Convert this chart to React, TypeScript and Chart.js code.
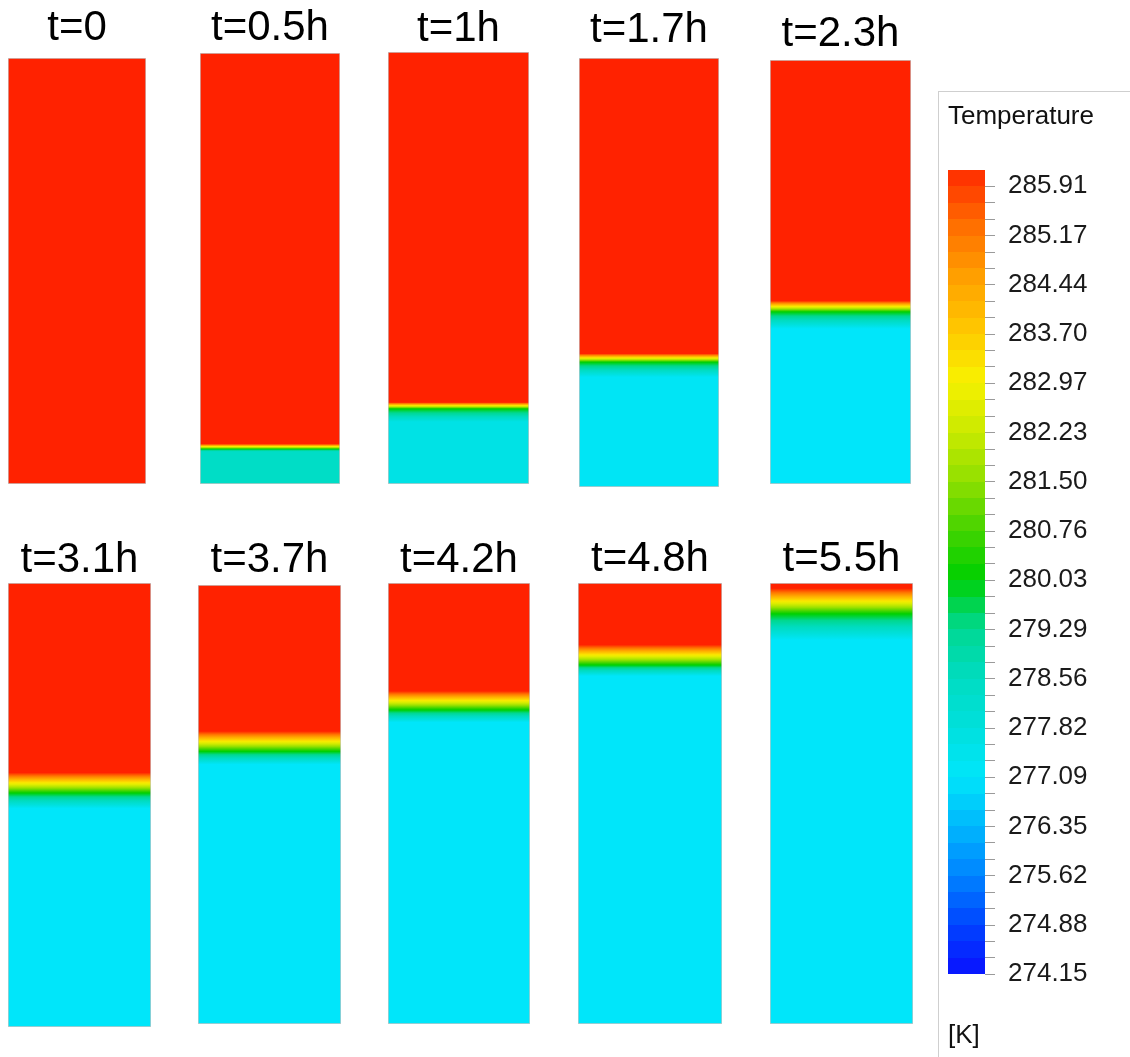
import React, { useEffect, useRef } from 'react';
import { Chart, registerables } from 'chart.js';

Chart.register(...registerables);

// ---------------- data ----------------
const TIME_LABELS = ['t=0', 't=0.5h', 't=1h', 't=1.7h', 't=2.3h', 't=3.1h', 't=3.7h', 't=4.2h', 't=4.8h', 't=5.5h'];
// height of the thermocline (green, ~280 K) as a fraction of tank height
const THERMOCLINE_LEVEL = [0, 0.081, 0.174, 0.291, 0.406, 0.527, 0.621, 0.712, 0.814, 0.93];
// thickness of the warm side of the thermocline (green -> red), fraction of tank height
const HOT_BAND = [0, 0.012, 0.015, 0.02, 0.026, 0.046, 0.046, 0.043, 0.046, 0.058];
// thickness of the cold side of the thermocline (cyan -> green), fraction of tank height
const MIXING_BAND = [0, 0.006, 0.03, 0.035, 0.04, 0.035, 0.03, 0.028, 0.025, 0.06];
// temperature of the cold fluid below the thermocline [K]
const COLD_TEMP = [277.09, 278.4, 277.6, 277.2, 277.09, 277.09, 277.09, 277.09, 277.09, 277.09];
const HOT_TEMP = 286.16;
const GREEN_TEMP = 280.03;

// colour legend tick labels, top to bottom
const TEMP_TICK_LABELS = ['285.91', '285.17', '284.44', '283.70', '282.97', '282.23', '281.50', '280.76', '280.03', '279.29', '278.56', '277.82', '277.09', '276.35', '275.62', '274.88', '274.15'];

// colour map anchors
const CMAP_TEMPS = [274.15, 274.88, 275.62, 276.35, 277.09, 277.82, 278.56, 279.29, 280.03, 280.76, 281.5, 282.23, 282.97, 283.7, 284.44, 285.17, 285.91, 286.16];
const CMAP_COLORS = ['#0a10ff', '#0044ff', '#0084ff', '#00b8fc', '#00e6fa', '#00e0dc', '#00dcc0', '#00d890', '#00d000', '#48d400', '#94e000', '#ccea00', '#f8f000', '#ffc800', '#ffa200', '#ff7400', '#ff3800', '#ff2200'];

// ---------------- layout (page pixels) ----------------
const PANEL_LAYOUT = [
  { x: 8, w: 138, titleY: 28, top: 58, bottom: 484 },
  { x: 200, w: 140, titleY: 28, top: 53, bottom: 484 },
  { x: 388, w: 141, titleY: 29, top: 52, bottom: 484 },
  { x: 579, w: 140, titleY: 30, top: 58, bottom: 487 },
  { x: 770, w: 141, titleY: 34, top: 60, bottom: 484 },
  { x: 8, w: 143, titleY: 560, top: 583, bottom: 1027 },
  { x: 198, w: 143, titleY: 560, top: 585, bottom: 1024 },
  { x: 388, w: 142, titleY: 560, top: 583, bottom: 1024 },
  { x: 578, w: 144, titleY: 559, top: 583, bottom: 1024 },
  { x: 770, w: 143, titleY: 559, top: 583, bottom: 1024 },
];
const FONT = "'Liberation Sans', Arial, Helvetica, sans-serif";
const TITLE_SIZE = 42;

function hexToRgb(h: string) {
  const n = parseInt(h.slice(1), 16);
  return [(n >> 16) & 255, (n >> 8) & 255, n & 255];
}

function colorAt(T: number) {
  if (T <= CMAP_TEMPS[0]) return CMAP_COLORS[0];
  const last = CMAP_TEMPS.length - 1;
  if (T >= CMAP_TEMPS[last]) return CMAP_COLORS[last];
  let i = 0;
  while (i < last - 1 && T > CMAP_TEMPS[i + 1]) i++;
  const f = (T - CMAP_TEMPS[i]) / (CMAP_TEMPS[i + 1] - CMAP_TEMPS[i]);
  const a = hexToRgb(CMAP_COLORS[i]);
  const b = hexToRgb(CMAP_COLORS[i + 1]);
  const c = a.map((v, k) => Math.round(v + (b[k] - v) * f));
  return `rgb(${c[0]},${c[1]},${c[2]})`;
}

const clamp01 = (v: number) => Math.max(0, Math.min(1, v));

function tankGradient(chart: any, i: number) {
  const area = chart.chartArea;
  if (!area) return colorAt(HOT_TEMP);
  const y = chart.scales.y;
  const g = chart.ctx.createLinearGradient(0, y.getPixelForValue(0), 0, y.getPixelForValue(1));
  const lvl = THERMOCLINE_LEVEL[i];
  const hb = HOT_BAND[i];
  const mb = MIXING_BAND[i];
  const cold = COLD_TEMP[i];
  g.addColorStop(0, colorAt(cold));
  const N = 12;
  for (let k = 0; k <= N; k++) {
    g.addColorStop(clamp01(lvl - mb + (mb * k) / N), colorAt(cold + ((GREEN_TEMP - cold) * k) / N));
  }
  for (let k = 1; k <= N; k++) {
    g.addColorStop(clamp01(lvl + (hb * k) / N), colorAt(GREEN_TEMP + ((HOT_TEMP - GREEN_TEMP) * k) / N));
  }
  g.addColorStop(1, colorAt(HOT_TEMP));
  return g;
}

function TankPanel({ index }: { index: number }) {
  const ref = useRef<HTMLCanvasElement>(null);
  const L = PANEL_LAYOUT[index];
  const canvasTop = L.titleY - 30;
  const height = L.bottom - canvasTop;
  useEffect(() => {
    const chart = new Chart(ref.current as HTMLCanvasElement, {
      type: 'bar',
      data: {
        labels: ['tank'],
        datasets: [
          {
            data: [[0, 1]] as any,
            backgroundColor: (c: any) => tankGradient(c.chart, index),
            borderColor: '#c6c6c6',
            borderWidth: 1,
            borderSkipped: false,
            barPercentage: 1,
            categoryPercentage: 1,
          } as any,
        ],
      },
      options: {
        responsive: false,
        animation: false,
        devicePixelRatio: 1,
        layout: { padding: 0 },
        plugins: {
          legend: { display: false },
          tooltip: { enabled: false },
          title: {
            display: true,
            text: TIME_LABELS[index],
            color: '#000',
            font: { family: FONT, size: TITLE_SIZE, weight: 'normal', lineHeight: 1 },
            padding: { top: 30 - TITLE_SIZE / 2, bottom: Math.max(0, L.top - L.titleY - TITLE_SIZE / 2) },
          },
        },
        scales: {
          x: { display: false },
          y: { display: false, min: 0, max: 1 },
        },
      } as any,
    });
    return () => chart.destroy();
  }, [index]);
  return (
    <canvas
      ref={ref}
      width={L.w}
      height={height}
      style={{ position: 'absolute', left: L.x, top: canvasTop, width: L.w, height, display: 'block' }}
    />
  );
}

function ColorLegend() {
  const ref = useRef<HTMLCanvasElement>(null);
  const left = 940;
  const top = 92;
  const width = 190;
  const height = 965;
  useEffect(() => {
    const ascending = TEMP_TICK_LABELS.map(Number).reverse();
    const step = (ascending[1] - ascending[0]) / 3;
    const minT = ascending[0];
    const maxT = ascending[ascending.length - 1] + step;
    const tickVals: number[] = [];
    for (let i = 0; i < ascending.length - 1; i++) {
      const d = (ascending[i + 1] - ascending[i]) / 3;
      tickVals.push(ascending[i], ascending[i] + d, ascending[i] + 2 * d);
    }
    tickVals.push(ascending[ascending.length - 1]);
    const labelsAsc = [...TEMP_TICK_LABELS].reverse();
    const nBands = Math.round((maxT - minT) / step);

    const chart = new Chart(ref.current as HTMLCanvasElement, {
      type: 'bar',
      data: {
        labels: ['legend'],
        datasets: [
          {
            data: [[minT, maxT]] as any,
            backgroundColor: (c: any) => {
              const ch = c.chart;
              if (!ch.chartArea) return colorAt(minT);
              const y = ch.scales.y;
              const g = ch.ctx.createLinearGradient(0, y.getPixelForValue(minT), 0, y.getPixelForValue(maxT));
              for (let k = 0; k < nBands; k++) {
                const col = colorAt(minT + (k + 0.5) * step);
                g.addColorStop(k / nBands, col);
                g.addColorStop((k + 1) / nBands, col);
              }
              return g;
            },
            borderWidth: 0,
            barPercentage: 1,
            categoryPercentage: 1,
          } as any,
        ],
      },
      options: {
        responsive: false,
        animation: false,
        devicePixelRatio: 1,
        layout: { padding: { left: 8, right: 0, top: 0, bottom: 0 } },
        plugins: {
          legend: { display: false },
          tooltip: { enabled: false },
          title: {
            display: true,
            text: 'Temperature',
            align: 'start',
            color: '#111',
            font: { family: FONT, size: 26, weight: 'normal', lineHeight: 1 },
            padding: { top: 12, bottom: 40 },
          },
          subtitle: {
            display: true,
            text: '[K]',
            position: 'bottom',
            align: 'start',
            color: '#111',
            font: { family: FONT, size: 26, weight: 'normal', lineHeight: 1 },
            padding: { top: 49, bottom: 8 },
          },
        },
        scales: {
          x: { display: false },
          y: {
            position: 'right',
            min: minT,
            max: maxT,
            afterBuildTicks: (scale: any) => {
              scale.ticks = tickVals.map((v) => ({ value: v }));
            },
            afterFit: (scale: any) => {
              scale.width = 145;
            },
            grid: {
              drawOnChartArea: false,
              drawTicks: true,
              tickLength: 10,
              color: '#9a9a9a',
              lineWidth: 1,
            },
            border: { display: false },
            ticks: {
              autoSkip: false,
              maxRotation: 0,
              padding: 13,
              color: '#1a1a1a',
              font: { family: FONT, size: 26 },
              callback: (_v: any, i: number) => (i % 3 === 0 ? labelsAsc[i / 3] : ''),
            },
          },
        },
      } as any,
    });
    return () => chart.destroy();
  }, []);
  return (
    <div
      style={{
        position: 'absolute',
        left: left - 2,
        top: top - 1,
        width: width + 2,
        height: height + 1,
        borderLeft: '1px solid #cfcfcf',
        borderTop: '1px solid #cfcfcf',
      }}
    >
      <canvas
        ref={ref}
        width={width}
        height={height}
        style={{ position: 'absolute', left: 1, top: 0, width, height, display: 'block' }}
      />
    </div>
  );
}

export default function App() {
  return (
    <div style={{ position: 'absolute', left: 0, top: 0, width: 1130, height: 1057, background: '#fff', overflow: 'hidden' }}>
      {TIME_LABELS.map((_, i) => (
        <TankPanel key={i} index={i} />
      ))}
      <ColorLegend />
    </div>
  );
}
